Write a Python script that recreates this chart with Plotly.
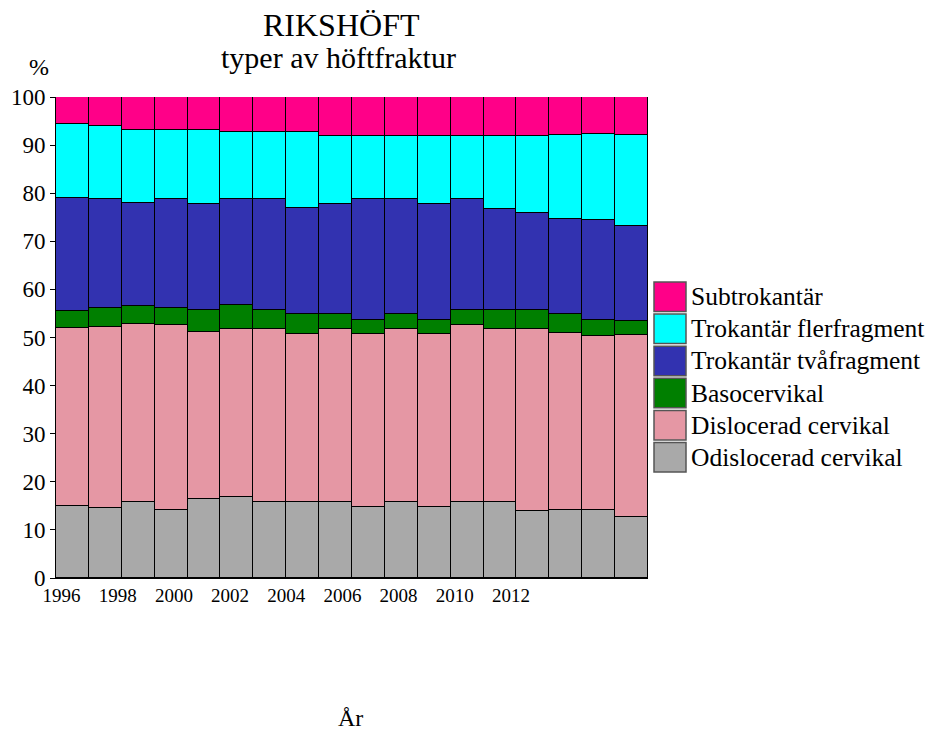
import plotly.graph_objects as go

years = list(range(1996, 2014))
odislocerad_top = [15.05, 14.6, 15.7, 14.1, 16.4, 16.8, 15.9, 15.9, 15.9, 14.8, 15.9, 14.8, 15.9, 15.9, 13.9, 14.1, 14.1, 12.6]
dislocerad_top = [52.0, 52.2, 52.8, 52.5, 51.2, 51.8, 51.8, 50.8, 51.8, 50.8, 51.8, 50.8, 52.7, 51.8, 51.8, 50.9, 50.4, 50.6]
basocervikal_top = [55.6, 56.2, 56.6, 56.2, 55.8, 56.8, 55.8, 54.8, 54.8, 53.7, 54.8, 53.7, 55.7, 55.7, 55.7, 54.8, 53.7, 53.5]
tvafragment_top = [78.9, 78.7, 78.0, 78.7, 77.8, 78.7, 78.7, 76.9, 77.8, 78.7, 78.7, 77.8, 78.7, 76.8, 75.8, 74.7, 74.5, 73.1]
flerfragment_top = [94.3, 93.9, 93.1, 93.1, 93.1, 92.7, 92.7, 92.7, 91.8, 91.8, 91.8, 91.8, 91.8, 91.8, 91.8, 92.0, 92.3, 92.2]

tops = [odislocerad_top, dislocerad_top, basocervikal_top, tvafragment_top, flerfragment_top, [100.0] * len(years)]
names = ["Odislocerad cervikal", "Dislocerad cervikal", "Basocervikal",
         "Trokantär tvåfragment", "Trokantär flerfragment", "Subtrokantär"]
colors = ["#a9a9a9", "#e597a4", "#007f00", "#3232b0", "#00ffff", "#ff0088"]

tick_years = list(range(1996, 2013, 2))
tick_labels = [str(y) for y in tick_years]

font_family = "Liberation Serif, Times New Roman, serif"

fig = go.Figure()
prev = [0.0] * len(years)
for name, top, col in zip(names, tops, colors):
    vals = [round(t - p, 2) for t, p in zip(top, prev)]
    fig.add_trace(go.Bar(x=years, y=vals, name=name, showlegend=False,
                         marker=dict(color=col, line=dict(color="black", width=1))))
    prev = top

# invisible trace carrying the year label axis
fig.add_trace(go.Scatter(x=tick_years, y=[None] * len(tick_years), xaxis="x2",
                         mode="markers", showlegend=False, hoverinfo="skip"))

# page is shown with an 8px body margin, so the figure is smaller than the window
fig.update_layout(
    barmode="stack", bargap=0,
    width=919, height=725,
    margin=dict(l=48, r=279, t=89, b=155, autoexpand=False),
    plot_bgcolor="white", paper_bgcolor="white",
    font=dict(family=font_family, size=23, color="black"),
    showlegend=False,
    xaxis=dict(range=[1995.5, 2013.5], showline=True, linecolor="black", linewidth=1,
               ticks="", showgrid=False, showticklabels=False, zeroline=False,
               automargin=False),
    xaxis2=dict(overlaying="x", anchor="y", side="bottom",
                range=[1995.80, 2016.88], tickmode="array", tickvals=tick_years,
                ticktext=tick_labels, showline=False, ticks="", showgrid=False,
                zeroline=False, tickfont=dict(size=19), automargin=False,
                ticklabelstandoff=4),
    yaxis=dict(range=[0, 100], tickmode="linear", tick0=0, dtick=10,
               showline=True, linecolor="black", linewidth=1,
               ticks="outside", ticklen=5, tickcolor="black",
               showgrid=False, zeroline=False, tickfont=dict(size=23),
               automargin=False),
)

# legend drawn as boxes with labels (reverse stacking order, top item first)
leg_x0 = (654 - 56) / 592
leg_x1 = (686 - 56) / 592
first_top = (578 - 282) / 481
pitch = 32.1 / 481
box_h = 29.5 / 481
for i, (name, col) in enumerate(zip(names[::-1], colors[::-1])):
    y1 = first_top - i * pitch
    y0 = y1 - box_h
    fig.add_shape(type="rect", xref="paper", yref="paper", x0=leg_x0, x1=leg_x1,
                  y0=y0, y1=y1, fillcolor=col, line=dict(color="#555555", width=1.5))
    fig.add_annotation(text=name, xref="paper", yref="paper", x=(689 - 56) / 592,
                       y=(y0 + y1) / 2, xanchor="left", yanchor="middle",
                       showarrow=False, font=dict(size=25.5))

fig.add_annotation(text="RIKSHÖFT", xref="paper", yref="paper", x=(341 - 56) / 592,
                   y=(578 - 25) / 481, showarrow=False, font=dict(size=32),
                   xanchor="center", yanchor="middle")
fig.add_annotation(text="typer av höftfraktur", xref="paper", yref="paper", x=(338 - 56) / 592,
                   y=(578 - 57) / 481, showarrow=False, font=dict(size=30),
                   xanchor="center", yanchor="middle")
fig.add_annotation(text="%", xref="paper", yref="paper", x=(39 - 56) / 592,
                   y=(578 - 67) / 481, showarrow=False, font=dict(size=24),
                   xanchor="center", yanchor="middle")
fig.add_annotation(text="År", xref="paper", yref="paper", x=(350 - 56) / 592,
                   y=(578 - 718) / 481, showarrow=False, font=dict(size=24),
                   xanchor="center", yanchor="middle")

fig.write_html("out.html")
